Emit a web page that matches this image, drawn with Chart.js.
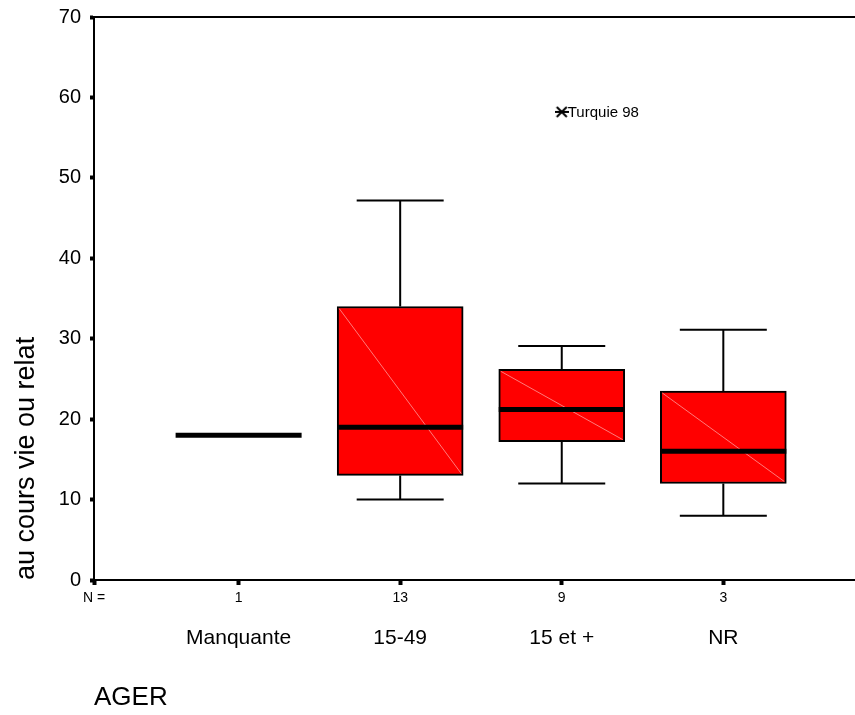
<!DOCTYPE html>
<html>
<head>
<meta charset="utf-8">
<script src="https://cdn.jsdelivr.net/npm/chart.js@4"></script>
<style>
  html, body { margin: 0; background: #fff; overflow: hidden; }
  #wrap { width: 855px; height: 715px; overflow: hidden; }
</style>
</head>
<body>
<div id="wrap"><canvas id="boxplot"></canvas></div>
<script>
// Données (boîtes à moustaches par AGER)
const categories = ['Manquante', '15-49', '15 et +', 'NR'];
const counts = [1, 13, 9, 3];
const whiskerLow = [18, 10, 12, 8];
const q1 = [18, 13, 17.2, 12];
const median = [18, 19, 21.2, 16];
const q3 = [18, 34, 26.2, 23.5];
const whiskerHigh = [18, 47.2, 29.1, 31.1];
const outlierCat = [2];
const outlierValue = [58.2];
const outlierLabel = ['Turquie 98'];
const yTicks = [0, 10, 20, 30, 40, 50, 60, 70];

const FONT = 'Arial, "Liberation Sans", sans-serif';
const X_MIN = 0.105, X_MAX = 4.815;
const BOX_W = 126, CAP_W = 87;

// astérisque façon SPSS (X + trait horizontal)
function asterisque() {
  const c = document.createElement('canvas');
  c.width = 14; c.height = 12;
  const g = c.getContext('2d');
  g.strokeStyle = '#000';
  g.lineWidth = 2;
  g.beginPath();
  g.moveTo(2, 1); g.lineTo(12, 11);
  g.moveTo(12, 1); g.lineTo(2, 11);
  g.moveTo(0, 6); g.lineTo(14, 6);
  g.stroke();
  return c;
}

// moustaches, médianes et diagonales dessinées avec les échelles de Chart.js
const boxDetails = {
  id: 'boxDetails',
  afterDatasetsDraw(chart) {
    const ctx = chart.ctx;
    const xs = chart.scales.x, ys = chart.scales.y;
    ctx.save();
    categories.forEach((c, i) => {
      const x = xs.getPixelForValue(i + 1);
      const yQ1 = ys.getPixelForValue(q1[i]);
      const yQ3 = ys.getPixelForValue(q3[i]);
      // diagonale claire dans la boîte
      if (yQ1 - yQ3 > 2) {
        ctx.strokeStyle = '#ff7a7a';
        ctx.lineWidth = 1;
        ctx.beginPath();
        ctx.moveTo(x - BOX_W / 2 + 2, yQ3 + 2);
        ctx.lineTo(x + BOX_W / 2 - 2, yQ1 - 2);
        ctx.stroke();
      }
      ctx.strokeStyle = '#000';
      ctx.lineWidth = 2;
      const yHi = ys.getPixelForValue(whiskerHigh[i]);
      const yLo = ys.getPixelForValue(whiskerLow[i]);
      if (yQ3 - yHi > 1) {
        ctx.beginPath();
        ctx.moveTo(x, yQ3); ctx.lineTo(x, yHi);
        ctx.moveTo(x - CAP_W / 2, yHi); ctx.lineTo(x + CAP_W / 2, yHi);
        ctx.stroke();
      }
      if (yLo - yQ1 > 1) {
        ctx.beginPath();
        ctx.moveTo(x, yQ1); ctx.lineTo(x, yLo);
        ctx.moveTo(x - CAP_W / 2, yLo); ctx.lineTo(x + CAP_W / 2, yLo);
        ctx.stroke();
      }
      // médiane épaisse
      const yMed = ys.getPixelForValue(median[i]);
      ctx.lineWidth = 5;
      ctx.beginPath();
      ctx.moveTo(x - BOX_W / 2, yMed); ctx.lineTo(x + BOX_W / 2, yMed);
      ctx.stroke();
    });
    // étiquettes des valeurs extrêmes
    ctx.fillStyle = '#000';
    ctx.font = '15px ' + FONT;
    ctx.textBaseline = 'middle';
    ctx.textAlign = 'left';
    outlierCat.forEach((c, k) => {
      const x = xs.getPixelForValue(c + 1);
      const y = ys.getPixelForValue(outlierValue[k]);
      ctx.fillText(outlierLabel[k], x + 6, y + 1);
    });
    ctx.restore();
  }
};

const ctx = document.getElementById('boxplot').getContext('2d');
new Chart(ctx, {
  type: 'bar',
  data: {
    datasets: [
      {
        label: 'boîtes',
        data: categories.map((c, i) => ({ x: i + 1, y: [q1[i], q3[i]] })),
        backgroundColor: '#ff0000',
        borderColor: '#000',
        borderWidth: 2,
        borderSkipped: false,
        barThickness: BOX_W
      },
      {
        type: 'scatter',
        label: 'extrêmes',
        data: outlierCat.map((c, k) => ({ x: c + 1, y: outlierValue[k] })),
        pointStyle: asterisque(),
        radius: 6,
        borderColor: '#000',
        borderWidth: 2
      }
    ]
  },
  options: {
    responsive: true,
    maintainAspectRatio: false,
    animation: false,
    layout: { padding: 0, autoPadding: false },
    plugins: { legend: { display: false }, tooltip: { enabled: false } },
    scales: {
      x: {
        type: 'linear', position: 'bottom', min: X_MIN, max: X_MAX, offset: false,
        afterBuildTicks: s => { s.ticks = [X_MIN, 1, 2, 3, 4].map(v => ({ value: v })); },
        afterFit: s => { s.height = 32; },
        ticks: {
          autoSkip: false, maxRotation: 0, padding: 5, color: '#000',
          font: { family: FONT, size: 14 },
          callback: (v, idx) => idx === 0 ? 'N =' : String(counts[idx - 1])
        },
        grid: { drawOnChartArea: false, offset: false, color: '#000', tickLength: 5, tickWidth: 4 },
        border: { color: '#000', width: 2 }
      },
      x2: {
        type: 'linear', position: 'bottom', min: X_MIN, max: X_MAX, offset: false,
        afterBuildTicks: s => { s.ticks = [1, 2, 3, 4].map(v => ({ value: v })); },
        afterFit: s => { s.height = 103; },
        ticks: {
          autoSkip: false, maxRotation: 0, padding: 6, color: '#000',
          font: { family: FONT, size: 21 },
          callback: (v, idx) => categories[idx]
        },
        grid: { display: false, offset: false },
        border: { display: false },
        title: { display: true, text: 'AGER', align: 'start', color: '#000', font: { family: FONT, size: 26 }, padding: { top: 0, bottom: 2 } }
      },
      xTop: {
        type: 'linear', position: 'top', min: X_MIN, max: X_MAX, offset: false,
        afterFit: s => { s.height = 17; },
        ticks: { display: false },
        grid: { drawOnChartArea: false, drawTicks: false, offset: false },
        border: { color: '#000', width: 2 }
      },
      y: {
        type: 'linear', min: 0, max: 70,
        afterBuildTicks: s => { s.ticks = yTicks.map(v => ({ value: v })); },
        afterFit: s => { s.width = 94; s.paddingTop = 0; s.paddingBottom = 0; },
        ticks: { color: '#000', padding: 9, font: { family: FONT, size: 20 } },
        grid: { drawOnChartArea: false, color: '#000', tickLength: 4, tickWidth: 4 },
        border: { color: '#000', width: 2 },
        title: { display: true, text: 'au cours vie ou relat', align: 'start', color: '#000', font: { family: FONT, size: 27 }, padding: { top: 10, bottom: 0 } }
      }
    }
  },
  plugins: [boxDetails]
});
</script>
</body>
</html>
